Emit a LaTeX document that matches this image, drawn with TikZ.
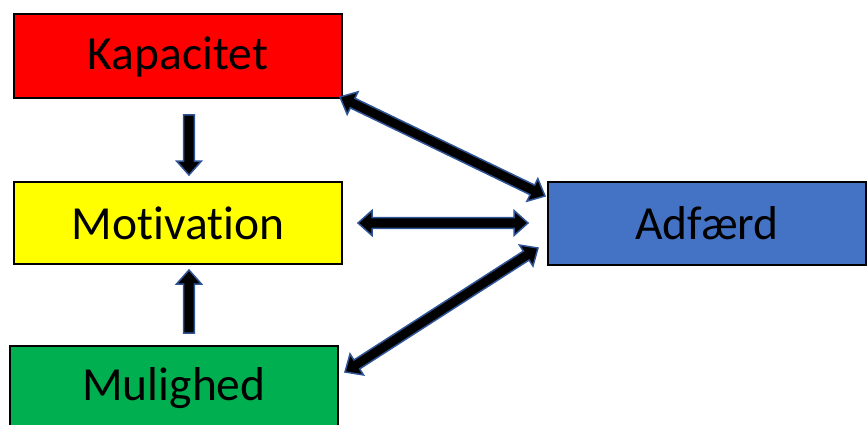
\documentclass[tikz,border=0pt]{standalone}
\usepackage{fontspec}
\setmainfont{Carlito}[Ligatures=NoCommon]
\usetikzlibrary{calc}
\definecolor{kred}{HTML}{FF0000}
\definecolor{kyel}{HTML}{FFFF00}
\definecolor{kgrn}{HTML}{00B050}
\definecolor{kblu}{HTML}{4472C4}
\definecolor{arrline}{HTML}{2F5597}
\tikzset{
  box/.style={draw=black, line width=2pt, minimum width=328pt, minimum height=84pt, inner sep=0pt, font=\fontsize{47.5}{56}\selectfont, text=black},
  blockarr/.style={fill=black, draw=arrline, line width=1.5pt, line join=miter},
}
% double-headed block arrow
\newcommand\dblarrow[2]{%
  \path[blockarr] let \p1=(#1), \p2=(#2), \n1={atan2(\y2-\y1,\x2-\x1)}, \n2={veclen(\x2-\x1,\y2-\y1)} in
   {[shift={(\p1)}, rotate=\n1]
    (0pt,0pt) -- (14pt,12.5pt) -- (14pt,5.3pt) -- ({(\n2-14)*1pt},5.3pt) -- ({(\n2-14)*1pt},12.5pt) -- ({\n2*1pt},0pt)
    -- ({(\n2-14)*1pt},-12.5pt) -- ({(\n2-14)*1pt},-5.3pt) -- (14pt,-5.3pt) -- (14pt,-12.5pt) -- cycle};}
% single-headed block arrow
\newcommand\sglarrow[2]{%
  \path[blockarr] let \p1=(#1), \p2=(#2), \n1={atan2(\y2-\y1,\x2-\x1)}, \n2={veclen(\x2-\x1,\y2-\y1)} in
   {[shift={(\p1)}, rotate=\n1]
    (0pt,5.3pt) -- ({(\n2-14)*1pt},5.3pt) -- ({(\n2-14)*1pt},12.5pt) -- ({\n2*1pt},0pt)
    -- ({(\n2-14)*1pt},-12.5pt) -- ({(\n2-14)*1pt},-5.3pt) -- (0pt,-5.3pt) -- cycle};}
\begin{document}
\begin{tikzpicture}[x=1pt,y=-1pt]
\useasboundingbox (0,0) rectangle (867,425);
\node[box, fill=kred] (kap) at (178,56.5) {Kapacitet};
\node[box, fill=kyel, minimum height=82pt] (mot) at (178,223) {Motivation};
\node[box, fill=kgrn] (mul) at (174,388) {Mulighed};
\node[box, fill=kblu, minimum width=318pt, minimum height=83pt] (adf) at (707,223.5) {Adfærd};
% connector end points
\coordinate (kapA) at (340,97);
\coordinate (adfK) at (545,196);
\coordinate (motA) at (358,223);
\coordinate (adfM) at (528,223);
\coordinate (mulA) at (345,372);
\coordinate (adfU) at (538,248);
\coordinate (kapM) at (189,115);
\coordinate (motK) at (189,175);
\coordinate (mulM) at (189,333);
\coordinate (motU) at (189,270);
\dblarrow{kapA}{adfK}
\dblarrow{motA}{adfM}
\dblarrow{mulA}{adfU}
\sglarrow{kapM}{motK}
\sglarrow{mulM}{motU}
\end{tikzpicture}
\end{document}
